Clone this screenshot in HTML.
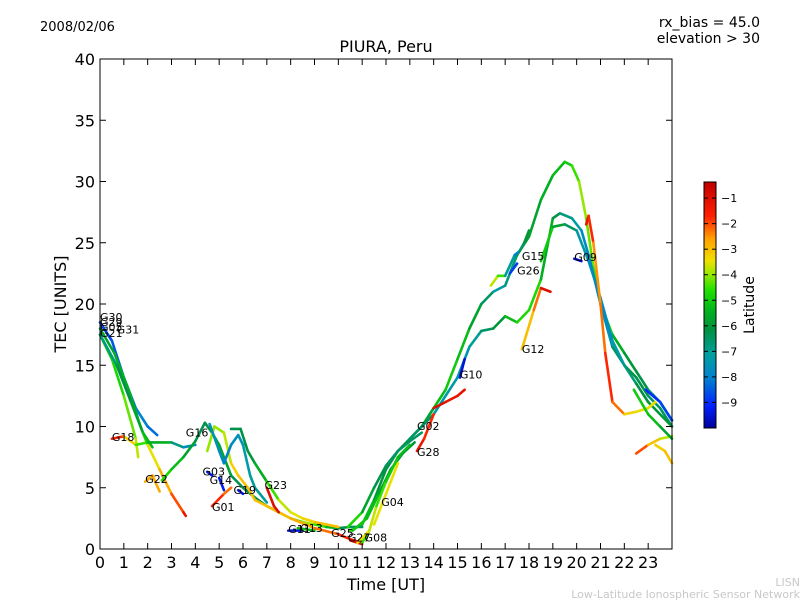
<!DOCTYPE html>
<html><head><meta charset="utf-8"><style>
body{margin:0;background:#fff;}
svg{display:block;font-family:"DejaVu Sans","Liberation Sans",sans-serif;}
</style></head><body>
<svg id="chart" width="800" height="600">
<defs>
<linearGradient id="cb" x1="0" y1="1" x2="0" y2="0">
<stop offset="0" stop-color="#00009a"/><stop offset="0.09" stop-color="#0020ff"/>
<stop offset="0.2" stop-color="#0080d0"/><stop offset="0.3" stop-color="#00a0a0"/>
<stop offset="0.4" stop-color="#009040"/><stop offset="0.47" stop-color="#00b020"/>
<stop offset="0.56" stop-color="#20e000"/><stop offset="0.63" stop-color="#a0e800"/>
<stop offset="0.68" stop-color="#f0e000"/><stop offset="0.77" stop-color="#ffa000"/>
<stop offset="0.86" stop-color="#ff2000"/><stop offset="1" stop-color="#c00000"/>
</linearGradient>
</defs>
<text x="40" y="31" font-size="13">2008/02/06</text>
<text x="760" y="27" font-size="14" text-anchor="end">rx_bias = 45.0</text>
<text x="760" y="43" font-size="14" text-anchor="end">elevation &gt; 30</text>
<text x="386" y="52" font-size="16" text-anchor="middle">PIURA, Peru</text>
<text x="386" y="590" font-size="16" text-anchor="middle">Time [UT]</text>
<text transform="translate(66,304) rotate(-90)" font-size="16" text-anchor="middle">TEC [UNITS]</text>
<text x="800" y="586" font-size="11" fill="#c8c8c8" text-anchor="end">LISN</text>
<text x="800" y="598" font-size="11" fill="#c8c8c8" text-anchor="end">Low-Latitude Ionospheric Sensor Network</text>
<g id="marks"></g>
<g id="axes"></g>
<rect x="704" y="182" width="12" height="246" fill="url(#cb)" stroke="#000" stroke-width="1"/>
<g id="cbticks"></g>
<text transform="translate(754,305) rotate(-90)" font-size="14" text-anchor="middle">Latitude</text>
</svg>
<script>
const xTicks=[0,1,2,3,4,5,6,7,8,9,10,11,12,13,14,15,16,17,18,19,20,21,22,23];
const yTicks=[0,5,10,15,20,25,30,35,40];
const cbTicks=[-1,-2,-3,-4,-5,-6,-7,-8,-9];
const trackNames=["h1","h2","h3","fall","g12","g09","g15","g26","g10a","g10b","g28","late1","late2","late3","late4",
"d1","d2","d3","d4","g18","g22","rise","m1","m2","m3","m4","g23","g03","g14","g19","g01","g11","g13","g27","g08","r1","r2","r3","g04"];
const trackT=[
[10.5,11,11.5,12,12.5,13,13.5,14,14.5,15,15.5,16,16.5,17,17.5,18,18.5,19,19.5,19.8,20.1,20.4,20.7,21,21.5,22,22.5,23,23.5,24],
[13,14,15,15.5,16,16.5,17,17.5,18,18.5,19,19.3,19.8,20.2,20.5,21,21.5,22,22.5,23,23.5,24],
[18.5,19,19.5,20,20.5,21,21.5,22,22.5,23,24],
[20.4,20.5,20.7,21,21.2,21.5,22,22.5,23,23.3],
[17.7,18.2,18.5,18.9],
[19.9,20.2],
[16.4,16.7,17,17.4,17.6,17.8,18],
[17.2,17.5],
[15.1,15.3],
[14,14.5,15,15.3],
[13.3,13.6,14],
[22.5,23,23.5,24],
[23.3,23.7,24],
[22.4,23,23.5,24],
[22.9,23.5,24],
[0,0.5,1,1.5,2,2.4],
[0,0.6,1.2,1.7,2,2.5,3,3.5,3.6],
[0,0.5,1,1.5,1.6],
[0,0.7,1.3,1.8,2.2],
[0.5,1,1.5,2,3,3.5,4],
[1.9,2.2,2.5],
[2.6,3,3.5,4,4.4],
[4.4,4.7,5,5.5,6,6.5,7,7.5,8,8.5,9,9.5,10,10.5,11],
[5.5,5.9,6.2,6.5,7,7.5,8,8.5,9,10],
[4.5,4.8,5.2,5.5,5.8,6.2,6.5,7,8,9,10,10.5,11],
[4.6,5,5.2,5.5,5.8,6,6.3,6.5,7],
[7,7.3,7.5],
[4.5,4.7],
[5,5.2],
[5.8,6],
[4.7,5.2,5.5],
[7.9,8.5],
[8.3,9],
[10.5,11],
[11,11.3],
[10.4,11,11.5,12,12.5,13,13.5],
[10.6,11.2,11.7,12.2,12.7,13.2],
[10.8,11.3,11.6,12,12.5,13],
[11.5,12,12.5]];
const trackV=[
[1.5,2,4,6.5,8,9,10,11.5,13,15.5,18,20,21,21.5,24,25.5,28.5,30.5,31.6,31.3,30,27,23,20,17.5,16,14.5,13,12,10.5],
[9,11,14,16.5,17.8,18,19,18.5,19.5,22,27,27.4,27,26,24,20,16.5,15,14,12.5,11.5,10],
[23.5,26.3,26.5,26,23.5,20.5,17,15,13.5,12,10],
[26.5,27.2,25,20,16,12,11,11.2,11.5,12],
[16.3,19.5,21.3,21],
[23.7,23.5],
[21.5,22.3,22.3,24,24.3,25,26],
[22.5,23.3],
[14,15.5],
[11.5,12,12.5,13],
[8,9,11],
[7.8,8.5,9,9.2],
[8.5,8,7],
[13,11,10,9],
[13,12,10.5],
[18.5,17,14,11.5,10,9.3],
[18,16,13,10,8.5,6.5,4.5,3,2.7],
[17.5,15.5,12.5,9,7.5],
[17.5,15,12,9.5,8.3],
[9,9.2,8.5,8.7,8.7,8.3,8.5],
[5.5,6,4.7],
[5.6,6.5,7.5,8.8,10.3],
[10.3,9.5,8.5,6,5,4.2,3.5,3,2.5,2.2,2,1.8,1.7,1.8,1.8],
[9.8,9.8,8,7,5.5,4,3,2.5,2.2,1.8],
[8,10,9.5,7,6,5,4,3.5,2.5,1.7,1.2,0.8,0.5],
[10.2,8,7,8.5,9.3,8.5,6,5,3.8],
[5,3.5,3],
[6.3,6],
[5.8,4.8],
[4.8,4.5],
[3.5,4.5,5],
[1.5,1.5],
[1.7,1.5],
[0.7,0.4],
[0.5,1.5],
[1.8,3,5,6.8,8,8.8,9.5],
[1.5,2.5,4.5,6.5,7.8,8.7],
[0.5,1.5,3.5,5.5,7.5,8.5],
[2,4.5,7]];
const trackLat=[
[-4.5,-4.5,-6,-6,-6.5,-6,-6,-5.5,-5,-5,-5.5,-6,-7,-7.5,-6,-6,-5.5,-5.5,-5,-5,-4,-4,-4.5,-4.5,-5,-6,-6,-6.5,-7,-7],
[-6,-7,-7.5,-7.5,-6.5,-6.5,-5.5,-5,-4.5,-5,-6,-6.5,-7,-7.5,-8,-8,-7,-6,-6,-6.5,-6.5,-6.5],
[-4.5,-5.5,-6,-7,-7.5,-8,-7.5,-7,-6.5,-6,-6],
[-1.5,-1,-2.5,-2.5,-2,-1.5,-3,-3.5,-3.5,-3.5],
[-2.5,-3.5,-1,-1],
[-9.5,-9.5],
[-3.5,-4,-5,-9,-7,-6,-6],
[-9,-8.5],
[-9.5,-9.5],
[-1,-1,-1.5,-1],
[-1,-1.5,-2],
[-1.5,-2.5,-3.5,-4],
[-3.5,-3,-3],
[-5,-5,-5.5,-6],
[-9,-9,-8.5],
[-9,-8.5,-8.5,-8,-8,-8.5],
[-6,-5.5,-5.5,-5.5,-4,-3,-2.5,-1.5,-1],
[-5,-5,-4.5,-4,-3.5],
[-7,-6.5,-6,-5.5,-5],
[-1,-2.5,-4,-5,-6,-7.5,-8],
[-2.5,-3,-2.5],
[-4.5,-5,-5.5,-6,-6.5],
[-6.5,-6,-5.5,-6,-6.5,-6,-6.5,-5.5,-4.5,-4,-4,-5,-6,-6.5,-6.5],
[-6,-6.5,-6,-6,-5,-4,-3.5,-3.5,-3,-3],
[-4,-4,-4,-3.5,-3,-3,-3,-3,-3,-2.5,-2,-1.5,-1],
[-7.5,-7.5,-8,-8,-7.5,-7.5,-7,-7,-7],
[-1,-1,-1],
[-9.5,-9],
[-9.5,-9],
[-9.5,-9],
[-1.5,-2,-2.5],
[-9.5,-9.5],
[-9,-1.5],
[-1,-1],
[-1.5,-7.5],
[-4,-5.5,-6,-6.5,-6.5,-6.5,-6.5],
[-5,-5,-5.5,-6,-6,-6],
[-3.5,-3.5,-4,-5,-5,-5.5],
[-3.5,-3.5,-3.5]];
const labelText=["G30","G29","G05","G21","G31","G18","G16","G22","G03","G14","G19","G01","G23","G11","G13","G25","G27","G08","G04","G02","G28","G10","G12","G26","G15","G09"];
const labelT=[0,0,0,0,0.7,0.5,3.6,1.9,4.3,4.6,5.6,4.7,6.9,7.9,8.4,9.7,10.4,11.1,11.8,13.3,13.3,15.1,17.7,17.5,17.7,19.9];
const labelV=[18.6,18.2,17.8,17.3,17.6,8.8,9.2,5.4,6,5.3,4.5,3.1,4.9,1.3,1.4,1,0.6,0.6,3.5,9.7,7.6,13.9,16,22.4,23.6,23.5];
const X=t=>100+t*(572/24), Y=v=>549-v*(490/40);
const CBY=l=>428-(l+10)*(246/9.63);
const stops=[[0,[0,0,154]],[0.09,[0,32,255]],[0.2,[0,128,208]],[0.3,[0,160,160]],[0.4,[0,144,64]],[0.47,[0,176,32]],[0.56,[32,224,0]],[0.63,[160,232,0]],[0.68,[240,224,0]],[0.77,[255,160,0]],[0.86,[255,32,0]],[1,[192,0,0]]];
function col(l){let f=(l+10)/9.63;f=Math.max(0,Math.min(1,f));
for(let i=1;i<stops.length;i++){if(f<=stops[i][0]){const a=stops[i-1],b=stops[i],u=(f-a[0])/(b[0]-a[0]);
const c=a[1].map((v,k)=>Math.round(v+(b[1][k]-v)*u));return`rgb(${c})`;}}return"rgb(192,0,0)";}
const NS="http://www.w3.org/2000/svg";
const mk=(tag,at,par)=>{const e=document.createElementNS(NS,tag);for(const k in at)e.setAttribute(k,at[k]);par.appendChild(e);return e;};
const marks=document.getElementById('marks'),axes=document.getElementById('axes');
trackT.forEach((ts,i)=>{
 const g=mk('g',{},marks);
 
 
 for(let j=1;j<ts.length;j++){
  const s=mk('line',{x1:X(ts[j-1]),y1:Y(trackV[i][j-1]),x2:X(ts[j]),y2:Y(trackV[i][j]),stroke:col((trackLat[i][j-1]+trackLat[i][j])/2),'stroke-width':2.6,'stroke-linecap':'round'},g);
  
  
 }
});
labelText.forEach((s,i)=>{
 const t=mk('text',{x:X(labelT[i]),y:Y(labelV[i]),'font-size':11},marks);
 t.textContent=s;
 
 
});
const frame=mk('rect',{x:100,y:59,width:572,height:490,fill:'none',stroke:'#000','stroke-width':1},axes);


xTicks.forEach(v=>{
 mk('line',{x1:X(v),y1:549,x2:X(v),y2:543,stroke:'#000'},axes);
 mk('line',{x1:X(v),y1:59,x2:X(v),y2:65,stroke:'#000'},axes);
 const t=mk('text',{x:X(v),y:568,'font-size':16,'text-anchor':'middle'},axes);
 t.textContent=v;
 
 
});
yTicks.forEach(v=>{
 mk('line',{x1:100,y1:Y(v),x2:106,y2:Y(v),stroke:'#000'},axes);
 mk('line',{x1:672,y1:Y(v),x2:666,y2:Y(v),stroke:'#000'},axes);
 const t=mk('text',{x:95,y:Y(v)+6,'font-size':16,'text-anchor':'end'},axes);
 t.textContent=v;
 
 
});
const cbg=document.getElementById('cbticks');
cbTicks.forEach(v=>{
 mk('line',{x1:704,y1:CBY(v),x2:708,y2:CBY(v),stroke:'#000'},cbg);
 mk('line',{x1:716,y1:CBY(v),x2:712,y2:CBY(v),stroke:'#000'},cbg);
 const t=mk('text',{x:721,y:CBY(v)+4,'font-size':11},cbg);
 t.textContent='\u2212'+Math.abs(v);
 
 
});
</script>
</body></html>
